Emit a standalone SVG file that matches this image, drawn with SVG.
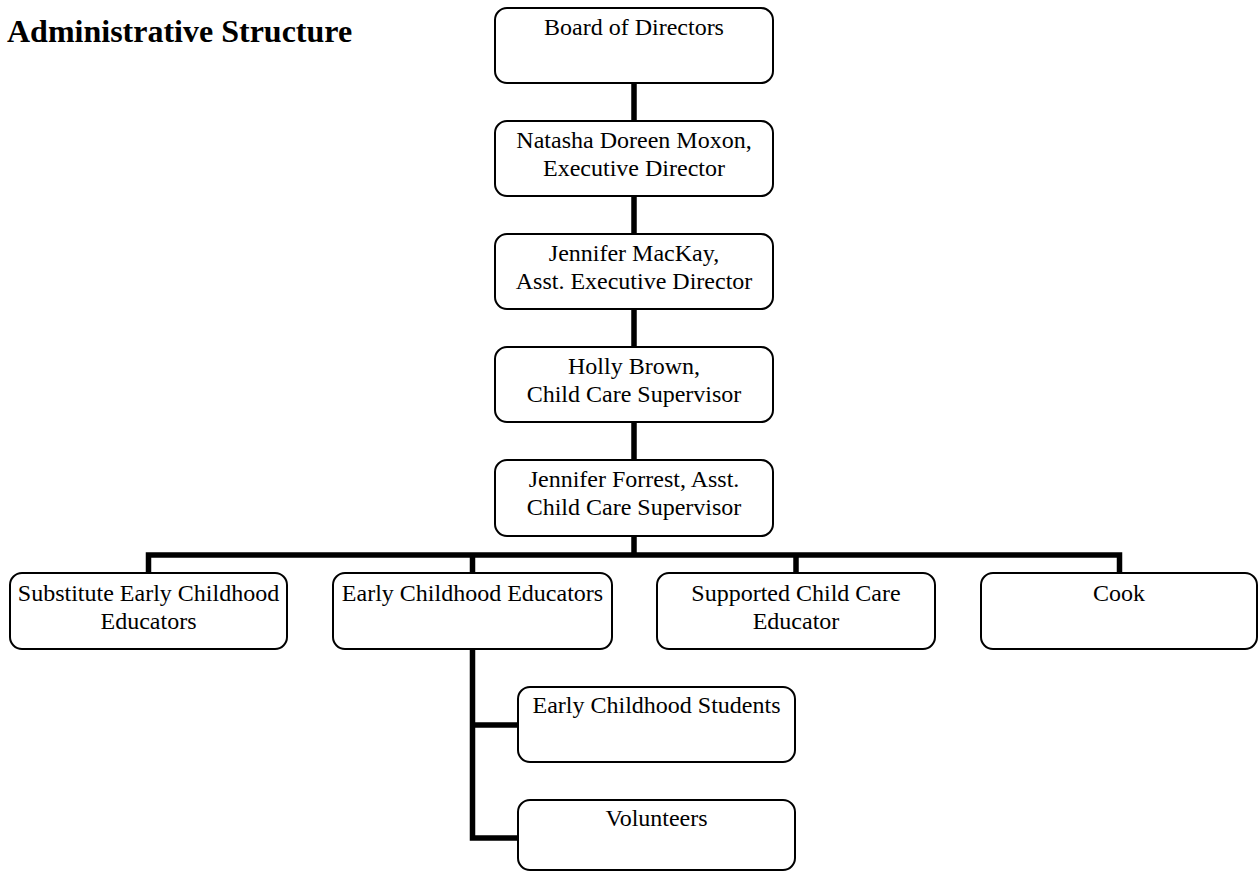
<svg xmlns="http://www.w3.org/2000/svg" width="1258" height="873" viewBox="0 0 1258 873">
<style>
.box{fill:#fff;stroke:#000;stroke-width:2}
.t{font-family:"Liberation Serif","Times New Roman",serif;font-size:24px;fill:#000;text-anchor:middle}
.title{font-family:"Liberation Serif","Times New Roman",serif;font-size:32px;font-weight:bold;fill:#000}
.c{fill:none;stroke:#000;stroke-width:5.5;stroke-linecap:butt;stroke-linejoin:miter}
</style>
<rect width="1258" height="873" fill="#fff"/>
<text class="title" x="7" y="42">Administrative Structure</text>
<g id="connectors">
<path class="c" d="M634 83V121M634 196V234M634 309V347M634 422V460M634 536V555"/>
<path class="c" d="M148.5 573V555H1119.5V573M472.5 555V573M796 555V573"/>
<path class="c" d="M472.5 649V838H518M472.5 725H518"/>
</g>
<g id="board"><rect class="box" x="495" y="8" width="278" height="75" rx="12"/><text class="t" x="634" y="35">Board of Directors</text></g>
<g id="executive"><rect class="box" x="495" y="121" width="278" height="75" rx="12"/><text class="t" x="634" y="148">Natasha Doreen Moxon,</text><text class="t" x="634" y="176">Executive Director</text></g>
<g id="asst-executive"><rect class="box" x="495" y="234" width="278" height="75" rx="12"/><text class="t" x="634" y="261">Jennifer MacKay,</text><text class="t" x="634" y="289">Asst. Executive Director</text></g>
<g id="supervisor"><rect class="box" x="495" y="347" width="278" height="75" rx="12"/><text class="t" x="634" y="374">Holly Brown,</text><text class="t" x="634" y="402">Child Care Supervisor</text></g>
<g id="asst-supervisor"><rect class="box" x="495" y="460" width="278" height="76" rx="12"/><text class="t" x="634" y="487">Jennifer Forrest, Asst.</text><text class="t" x="634" y="515">Child Care Supervisor</text></g>
<g id="substitute"><rect class="box" x="10" y="573" width="277" height="76" rx="12"/><text class="t" x="148.5" y="601">Substitute Early Childhood</text><text class="t" x="148.5" y="629">Educators</text></g>
<g id="ece"><rect class="box" x="333" y="573" width="279" height="76" rx="12"/><text class="t" x="472.5" y="601">Early Childhood Educators</text></g>
<g id="supported"><rect class="box" x="657" y="573" width="278" height="76" rx="12"/><text class="t" x="796" y="601">Supported Child Care</text><text class="t" x="796" y="629">Educator</text></g>
<g id="cook"><rect class="box" x="981" y="573" width="276" height="76" rx="12"/><text class="t" x="1119" y="601">Cook</text></g>
<g id="students"><rect class="box" x="518" y="687" width="277" height="75" rx="12"/><text class="t" x="656.5" y="713">Early Childhood Students</text></g>
<g id="volunteers"><rect class="box" x="518" y="800" width="277" height="70" rx="12"/><text class="t" x="656.5" y="826">Volunteers</text></g>
</svg>
